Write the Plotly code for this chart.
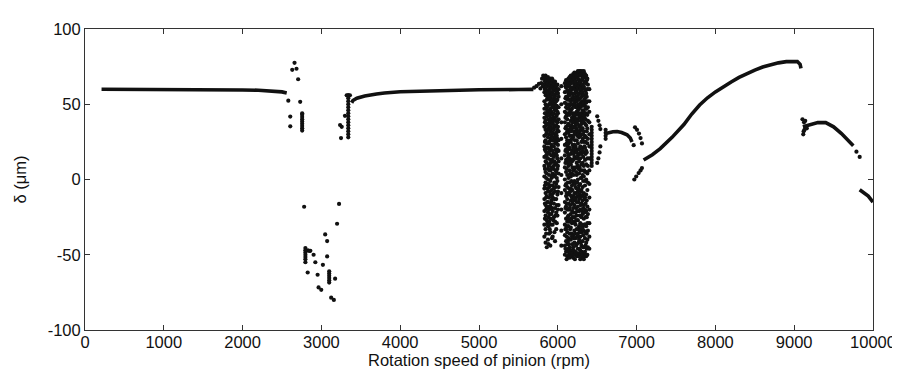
import plotly.graph_objects as go

# ---------------- data ----------------
# smooth branches (rpm, delta in um)
branch1_rpm = [210, 500, 1000, 1500, 2000, 2200, 2400, 2500, 2560]
branch1_delta = [60, 60, 60, 59.8, 59.5, 59.3, 58.8, 58.2, 57.5]

branch2_rpm = [3384, 3400, 3450, 3550, 3700, 3800, 4000, 4500, 5000, 5500, 5690]
branch2_delta = [51, 52.5, 54, 55.5, 56.8, 57.5, 58.3, 59.2, 59.6, 59.8, 59.9]

arcA_rpm = [6607, 6650, 6700, 6753, 6810, 6879, 6920, 6942]
arcA_delta = [30.5, 31.2, 31.7, 31.9, 31.2, 29.7, 27.5, 25]

branch3_rpm = [7089, 7200, 7300, 7450, 7600, 7700, 7800, 7900, 8000, 8100, 8200, 8300,
               8400, 8500, 8600, 8700, 8800, 8900, 8980, 9040, 9075, 9086]
branch3_delta = [13, 16.5, 20.5, 28, 36.5, 43.5, 49.5, 54.3, 58.2, 61.7, 64.8, 67.8,
                 70.4, 72.7, 74.7, 76.3, 77.5, 78.3, 78.7, 78.4, 76.5, 73.8]

branch4_rpm = [9110, 9200, 9300, 9400, 9500, 9600, 9700, 9750]
branch4_delta = [35, 36.5, 37.8, 37.8, 35, 30.5, 25.5, 22.5]

branch5_rpm = [9831, 9880, 9940, 10000]
branch5_delta = [-6.8, -8.5, -11, -15]

# isolated points (rpm, delta)
scatter_rpm = [2659, 2630, 2684, 2705, 2580, 2731, 2605, 2605,
               2781, 3224, 3199, 3048, 3073, 2860, 2901, 2923, 3019, 3073,
               2826, 2952, 3174, 2964, 2998, 3124, 3158, 2830, 2845,
               3321, 3362, 3299, 3237, 3258, 3249,
               5700, 5730, 5760, 5790, 5800, 5815, 5830, 5845, 5810, 5835, 5780, 5850,
               6500, 6515, 6530, 6540, 6540, 6530, 6515, 6500,
               6963, 6980, 7005, 7030, 7050, 7068, 6971, 6995, 7026, 7050, 7068,
               9105, 9115, 9120, 9125, 9130, 9140, 9160, 9790, 9831]
scatter_delta = [77.5, 72.9, 73.6, 66.6, 52.4, 51.6, 41.8, 35.3,
                 -18.1, -16.2, -29.4, -36.5, -40.9, -47.4, -50, -55, -56.7, -51.1,
                 -61.8, -63.3, -65.9, -71.7, -73.3, -78.5, -80, -47, -47.5,
                 55.9, 55.9, 42.3, 36.2, 35, 27.5,
                 61, 62, 63.5, 64, 67, 69, 68, 66, 62, 61, 60.5, 63,
                 42, 39, 36, 33.5, 22, 18, 14, 11,
                 22.8, 34.7, 33, 30.5, 27.5, 24, 0, 2, 4.3, 6, 7.6,
                 40, 30, 32, 38, 33, 39, 34, 18.5, 15]

# short vertical bars of points: rpm and their delta values
bars_rpm = [2756, 2797, 3099, 3341, 6430, 6607]
bars_delta = [
    [32.5, 34, 35.5, 37, 38.5, 40, 41.5, 43, 44],
    [-45.5, -47, -48.5, -50, -51.5, -53, -55],
    [-61, -62.5, -64, -65.5, -67, -68.5],
    [28, 30, 32, 34, 36, 38, 40, 42, 44, 46, 48, 50, 52, 54, 56],
    [9, 11, 13, 15, 17, 19, 21, 23, 25, 27, 29, 31, 33, 35],
    [27, 29, 31, 33],
]

# chaotic band 1 (columns of rpm, each with its sampled delta values)
band1_rpm = [5830, 5837, 5845, 5852, 5860, 5867, 5875, 5882, 5890, 5897, 5905, 5912,
             5920, 5927, 5935, 5942, 5950, 5957, 5965, 5972, 5980, 5987, 5995, 6002, 6010]
band1_delta = [
    [67, 63, 58, 52, 47, 41, 35, 29, 22, 15, 9, 2, -6, -13, -21, -30, -38],
    [65, 60, 44, 38, 25, 20, 7, -4, -16, -26],
    [69, 65, 61, 56, 50, 44, 39, 33, 26, 19, 12, 5, -2, -9, -17, -24, -33, -42],
    [67, 59, 49, 36, 30, 16, 1, -12, -20, -36],
    [66, 62, 57, 53, 48, 42, 37, 31, 24, 18, 11, 4, -3, -11, -19, -27, -45],
    [64, 55, 46, 33, 21, 14, -6, -15, -29],
    [68, 64, 59, 54, 49, 45, 40, 34, 28, 21, 14, 7, 0, -8, -15, -22, -31, -40],
    [66, 57, 43, 37, 24, 9, -3, -18, -25, -43],
    [65, 60, 55, 50, 46, 43, 36, 30, 25, 17, 10, 3, -5, -12, -20, -28, -36],
    [62, 53, 39, 33, 19, 6, -8, -23, -33],
    [67, 63, 58, 51, 47, 41, 38, 32, 27, 20, 13, 6, -1, -10, -18, -26, -35, -44],
    [65, 54, 44, 35, 21, 11, -4, -16, -30],
    [64, 61, 56, 52, 45, 40, 34, 29, 23, 16, 8, 1, -7, -14, -23],
    [67, 58, 49, 38, 26, 13, 2, -10, -19, -39],
    [66, 62, 57, 53, 48, 43, 37, 31, 26, 19, 12, 4, -4, -12, -21, -30, -38],
    [60, 51, 41, 34, 17, 7, -9, -27],
    [63, 59, 54, 49, 44, 39, 33, 28, 22, 15, 9, 2, -6, -16, -25],
    [64, 56, 47, 36, 26, 12, -2, -13, -35],
    [65, 60, 55, 50, 46, 41, 35, 30, 24, 17, 11, 3, -8, -19, -28, -41],
    [61, 53, 39, 28, 20, 6, -5, -24],
    [62, 57, 52, 47, 42, 36, 31, 25, 18, 10, 5, -3, -13, -22, -33],
    [59, 49, 43, 29, 16, 1, -17, -29],
    [63, 58, 53, 45, 38, 33, 27, 20, 14, 7, -1, -10, -24],
    [57, 44, 35, 23, 9, -8, -20],
    [60, 55, 48, 40, 32, 26, 19, 12, 4, -5, -17],
]

# sparse gap column and chaotic band 2
gap_rpm = [6045]
gap_delta = [[62, 50, 38, 27, 14, 3, -9, -20, -34, -44]]

band2_rpm = [6090, 6097, 6105, 6112, 6120, 6127, 6135, 6142, 6150, 6157, 6165, 6172,
             6180, 6187, 6195, 6202, 6210, 6217, 6225, 6232, 6240, 6247, 6255, 6262,
             6270, 6277, 6285, 6292, 6300, 6307, 6315, 6322, 6330, 6337, 6345, 6352,
             6360, 6367, 6375, 6382, 6400]
band2_delta = [
    [64, 58, 51, 45, 38, 30, 23, 16, 8, 0, -7, -15, -22, -30, -37, -44, -50],
    [62, 54, 41, 34, 19, 11, -4, -19, -33, -46],
    [66, 61, 55, 48, 42, 35, 28, 20, 13, 5, -3, -11, -18, -26, -33, -41, -48],
    [63, 50, 44, 31, 24, 7, -9, -16, -31, -38, -53],
    [65, 59, 53, 47, 40, 33, 26, 18, 11, 3, -5, -13, -20, -28, -35, -43, -51],
    [66, 55, 43, 36, 22, 14, -2, -10, -25, -41, -48],
    [67, 62, 57, 50, 44, 37, 31, 24, 16, 9, 1, -9, -16, -24, -31, -39, -46],
    [64, 53, 47, 33, 20, 12, -6, -20, -28, -43, -50],
    [68, 63, 56, 49, 43, 36, 29, 21, 14, 6, -2, -10, -19, -27, -36, -45, -52],
    [66, 60, 45, 34, 26, 4, -8, -17, -33, -47],
    [69, 64, 58, 52, 46, 39, 32, 25, 17, 10, 2, -6, -14, -23, -32, -40, -49],
    [67, 61, 50, 36, 29, 13, -1, -11, -26, -36, -51],
    [68, 65, 60, 54, 47, 41, 34, 27, 19, 12, 4, -4, -12, -21, -29, -38, -47],
    [69, 57, 44, 38, 23, 8, -7, -16, -25, -43, -49],
    [70, 66, 61, 55, 49, 42, 35, 28, 21, 13, 6, -2, -11, -19, -28, -37, -45, -52],
    [68, 64, 53, 40, 32, 17, 3, -14, -22, -39, -47],
    [71, 67, 62, 57, 51, 44, 38, 30, 23, 15, 7, -1, -9, -17, -25, -34, -42, -50],
    [69, 60, 49, 41, 26, 19, -3, -12, -29, -36, -53],
    [70, 65, 59, 53, 48, 43, 36, 31, 22, 14, 8, -5, -13, -22, -30, -39, -48],
    [70, 62, 55, 39, 34, 20, 5, -9, -19, -27, -44],
    [71, 68, 63, 58, 52, 45, 40, 33, 26, 18, 11, 3, -6, -15, -24, -33, -43, -51],
    [69, 60, 48, 37, 29, 14, -2, -11, -21, -38, -49],
    [72, 67, 61, 56, 50, 46, 39, 32, 24, 16, 9, 0, -8, -18, -27, -36, -46],
    [70, 64, 54, 43, 30, 20, 7, -6, -15, -33, -42, -51],
    [71, 66, 62, 57, 53, 47, 41, 35, 28, 20, 12, 4, -4, -13, -21, -31, -40, -49],
    [72, 64, 50, 44, 32, 17, 8, -10, -24, -35, -46],
    [72, 69, 64, 59, 54, 48, 42, 36, 29, 22, 14, 6, -3, -12, -20, -29, -38, -47, -53],
    [70, 61, 51, 39, 33, 18, 1, -8, -17, -33, -42, -50],
    [70, 66, 60, 55, 49, 44, 37, 30, 25, 17, 10, 1, -7, -16, -25, -35, -44, -52],
    [72, 63, 57, 41, 34, 21, 6, -11, -21, -30, -48],
    [71, 67, 63, 58, 52, 46, 40, 34, 27, 19, 11, 3, -5, -14, -23, -32, -41, -50],
    [69, 61, 49, 43, 30, 15, -1, -10, -19, -37, -45, -52],
    [72, 68, 62, 56, 51, 45, 38, 32, 25, 18, 9, 2, -9, -17, -26, -34, -45, -53],
    [70, 65, 53, 41, 28, 22, 6, -13, -22, -30, -49],
    [70, 65, 60, 54, 49, 43, 37, 29, 21, 13, 5, -4, -12, -20, -30, -39, -48],
    [68, 59, 47, 40, 25, 17, -1, -16, -25, -35, -44, -51],
    [69, 64, 57, 51, 44, 36, 28, 19, 10, 0, -10, -21, -31, -42, -51],
    [66, 55, 47, 32, 18, 5, -14, -25, -36, -46],
    [67, 60, 52, 43, 34, 24, 14, 4, -7, -18, -29, -40, -50],
    [63, 48, 39, 27, 9, -2, -23, -34, -45],
    [60, 52, 45, 38, 30, 22, 14, 6, -3, -12, -20, -29, -38, -46],
]

x_ticks = [0, 1000, 2000, 3000, 4000, 5000, 6000, 7000, 8000, 9000, 10000]
y_ticks = [-100, -50, 0, 50, 100]

# ---------------- figure ----------------
INK = "#111111"
fig = go.Figure()

for xs, ys in [(branch1_rpm, branch1_delta), (branch2_rpm, branch2_delta),
               (arcA_rpm, arcA_delta), (branch3_rpm, branch3_delta),
               (branch4_rpm, branch4_delta), (branch5_rpm, branch5_delta)]:
    fig.add_trace(go.Scatter(x=xs, y=ys, mode="lines",
                             line=dict(color=INK, width=3.6), hoverinfo="skip"))


def flatten(rpms, cols):
    xs, ys = [], []
    for r, vals in zip(rpms, cols):
        for v in vals:
            xs.append(r)
            ys.append(v)
    return xs, ys


pts_x = list(scatter_rpm)
pts_y = list(scatter_delta)
for rpms, cols in [(bars_rpm, bars_delta), (band1_rpm, band1_delta),
                   (gap_rpm, gap_delta), (band2_rpm, band2_delta)]:
    a, b = flatten(rpms, cols)
    pts_x += a
    pts_y += b

fig.add_trace(go.Scatter(x=pts_x, y=pts_y, mode="markers",
                         marker=dict(color=INK, size=4.2, line=dict(width=0)),
                         hoverinfo="skip"))

axis_common = dict(showgrid=False, zeroline=False, showline=True, linecolor="#333",
                   linewidth=1, mirror="ticks", ticks="inside", ticklen=5,
                   tickcolor="#333", tickfont=dict(size=16.5, color="#111"))

fig.update_layout(
    width=900, height=373,
    margin=dict(l=77, r=27, t=15, b=51),
    paper_bgcolor="white", plot_bgcolor="white",
    showlegend=False,
    font=dict(family="Liberation Sans, Arial, sans-serif", size=16.5, color="#111"),
    xaxis=dict(range=[0, 10000], tickvals=x_ticks, ticktext=[str(v) for v in x_ticks],
               ticklabelstandoff=-3,
               title=dict(text="Rotation speed of pinion (rpm)", standoff=0,
                          font=dict(size=16.5)), **axis_common),
    yaxis=dict(range=[-100, 100], tickvals=y_ticks, ticktext=[str(v) for v in y_ticks],
               title=dict(text="δ (μm)", standoff=16, font=dict(size=16.5)),
               **axis_common),
)

fig.write_html("out.html")
